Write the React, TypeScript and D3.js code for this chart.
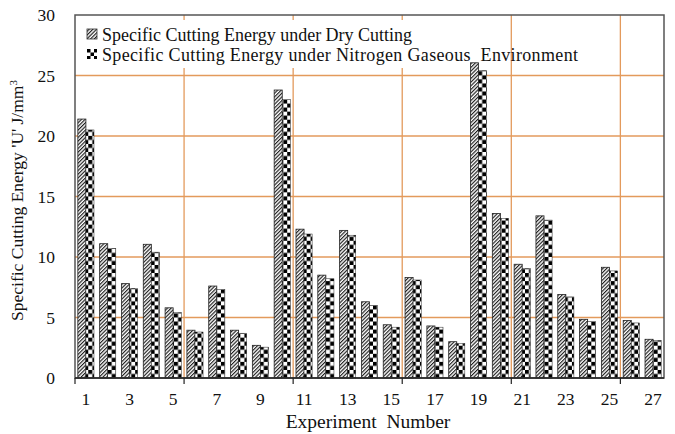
import React from "react";
import * as d3 from "d3";

const experiments = d3.range(1, 28);
const dryCutting = [21.4, 11.1, 7.8, 11.05, 5.8, 3.95, 7.6, 3.95, 2.7, 23.8, 12.3, 8.5, 12.2, 6.3, 4.4, 8.3, 4.3, 3.0, 26.05, 13.6, 9.4, 13.4, 6.9, 4.85, 9.15, 4.75, 3.2];
const nitrogenEnv = [20.5, 10.7, 7.4, 10.4, 5.4, 3.8, 7.3, 3.7, 2.55, 23.0, 11.9, 8.2, 11.8, 6.0, 4.2, 8.1, 4.2, 2.85, 25.4, 13.2, 9.05, 13.05, 6.7, 4.65, 8.85, 4.55, 3.1];
const yTicks = [0, 5, 10, 15, 20, 25, 30];
const xLabels = experiments.filter((d) => d % 2 === 1);
const seriesNames = [
  "Specific Cutting Energy under Dry Cutting",
  "Specific Cutting Energy under Nitrogen Gaseous  Environment",
];

const W = 675;
const H = 434;
const L = 75, R = 664, T = 15, B = 378;
const GRID = "#e39a5c";
const FONT = "'Liberation Serif', 'Times New Roman', serif";
const txt = (size: number): React.CSSProperties => ({ fontFamily: FONT, fontSize: size, whiteSpace: "pre" });

export default function App() {
  const x = d3.scaleBand<number>().domain(experiments).range([L, R]).padding(0);
  const bw = x.bandwidth();
  const x1 = d3.scaleBand<string>().domain(["dry", "n2"]).range([bw * 0.13, bw * 0.87]);
  const y = d3.scaleLinear().domain([0, 30]).range([B, T]);
  const subW = x1.bandwidth();
  const cell = subW / 2;
  const vGrid = [5, 10, 15, 20, 25].map((k) => L + k * bw);
  const xTickMarks = [0, 5, 10, 15, 20, 25].map((k) => L + k * bw);

  return (
    <div style={{ position: "fixed", left: 0, top: 0 }}>
      <svg width={W} height={H} style={{ display: "block", background: "#fff" }}>
        <defs>
          <pattern id="hatch" patternUnits="userSpaceOnUse" width={2.6} height={2.6} patternTransform="rotate(45)">
            <rect width={2.6} height={2.6} fill="#fff" />
            <line x1={0.6} y1={0} x2={0.6} y2={2.6} stroke="#111" strokeWidth={1.1} />
          </pattern>
          {experiments.map((e) => (
            <pattern key={e} id={`chk${e}`} patternUnits="userSpaceOnUse" x={(x(e) as number) + (x1("n2") as number)} y={B} width={cell * 2} height={cell * 2}>
              <rect width={cell * 2} height={cell * 2} fill="#fff" />
              <rect width={cell} height={cell} fill="#000" />
              <rect x={cell} y={cell} width={cell} height={cell} fill="#000" />
            </pattern>
          ))}
          <pattern id="chkLeg" patternUnits="userSpaceOnUse" x={87} y={49} width={7} height={7}>
            <rect width={7} height={7} fill="#fff" />
            <rect width={3.5} height={3.5} fill="#000" />
            <rect x={3.5} y={3.5} width={3.5} height={3.5} fill="#000" />
          </pattern>
        </defs>

        {/* plot background */}
        <rect x={L} y={T} width={R - L} height={B - T} fill="#fff" />

        {/* gridlines */}
        {yTicks.filter((t) => t > 0 && t < 30).map((t) => (
          <line key={t} x1={L} x2={R} y1={y(t)} y2={y(t)} stroke={GRID} strokeWidth={1.3} />
        ))}
        {vGrid.map((gx, i) => (
          <line key={i} x1={gx} x2={gx} y1={T} y2={B} stroke={GRID} strokeWidth={1.3} />
        ))}

        {/* legend background */}
        <rect x={L + 1} y={20} width={433} height={48} fill="#fff" />

        {/* bars */}
        {experiments.map((e, i) => (
          <g key={e} transform={`translate(${x(e)},0)`}>
            <rect x={x1("dry")} y={y(dryCutting[i])} width={subW} height={B - y(dryCutting[i])} fill="url(#hatch)" stroke="#222" strokeWidth={0.8} />
            <rect x={x1("n2")} y={y(nitrogenEnv[i])} width={subW} height={B - y(nitrogenEnv[i])} fill={`url(#chk${e})`} stroke="#222" strokeWidth={0.5} />
          </g>
        ))}

        {/* frame */}
        <rect x={L} y={T} width={R - L} height={B - T} fill="none" stroke="#555" strokeWidth={1.5} />
        <line x1={L} x2={R} y1={B} y2={B} stroke="#222" strokeWidth={1.3} />
        {xTickMarks.map((tx, i) => (
          <line key={i} x1={tx} x2={tx} y1={B} y2={B + 6} stroke="#222" strokeWidth={1.2} />
        ))}

        {/* y tick labels */}
        {yTicks.map((t) => (
          <text key={t} x={55} y={y(t)} dy="0.35em" textAnchor="end" style={txt(17.5)} fill="#111">{t}</text>
        ))}

        {/* x tick labels */}
        {xLabels.map((e) => (
          <text key={e} x={(x(e) as number) + bw / 2} y={405} textAnchor="middle" style={txt(17.5)} fill="#111">{e}</text>
        ))}

        {/* axis titles */}
        <text x={368} y={428} textAnchor="middle" style={txt(19.5)} fill="#111">{"Experiment  Number"}</text>
        <text transform={`translate(23,${(T + B) / 2 + 4}) rotate(-90)`} textAnchor="middle" style={txt(17.5)} fill="#111">
          Specific Cutting Energy 'U' J/mm<tspan dy={-6} style={{ fontSize: 11 }}>3</tspan>
        </text>

        {/* legend */}
        <rect x={87} y={29} width={10} height={10} fill="url(#hatch)" stroke="#333" strokeWidth={0.8} />
        <rect x={87} y={49} width={10} height={10} fill="url(#chkLeg)" />
        <text x={102} y={41} style={txt(18)} fill="#111">{seriesNames[0]}</text>
        <text x={102} y={61} style={txt(18)} fill="#111" textLength={476} lengthAdjust="spacing">{seriesNames[1]}</text>
      </svg>
    </div>
  );
}
